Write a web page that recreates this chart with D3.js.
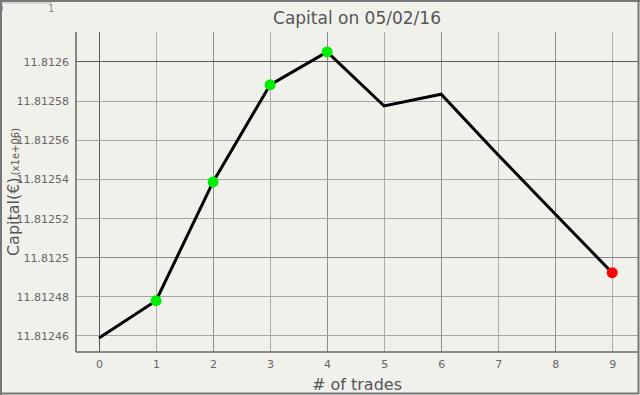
<!DOCTYPE html>
<html><head><meta charset="utf-8">
<script src="https://cdn.jsdelivr.net/npm/d3@7"></script>
<style>html,body{margin:0;padding:0;background:#f1f1ec;}svg{display:block;}</style>
</head><body>
<svg id="c" width="640" height="395"></svg>
<script>
const trades = [0,1,2,3,4,5,6,7,8,9];
const capital = [11.812459, 11.812478, 11.8125387, 11.8125883, 11.8126051, 11.8125775, 11.8125835, 11.8125525, 11.8125223, 11.8124923];
const markerColor = [null, "#00ee00", "#00ee00", "#00ee00", "#00ee00", null, null, null, null, "#ff0000"];
const xTicks = [0,1,2,3,4,5,6,7,8,9];
const yTicks = [11.81246, 11.81248, 11.8125, 11.81252, 11.81254, 11.81256, 11.81258, 11.8126];
const yTickLabels = ["11.81246","11.81248","11.8125","11.81252","11.81254","11.81256","11.81258","11.8126"];
const title = "Capital on 05/02/16";
const xTitle = "# of trades";

const svg = d3.select("#c");
const W = 640, H = 395;
const L = 76, R = 639, T = 32, B = 352;
const font = "Tahoma, 'DejaVu Sans', Verdana, sans-serif";

const x = d3.scaleLinear().domain([-0.404, 9.47]).range([L, R]);
const y = d3.scaleLinear().domain([11.8124518, 11.8126153]).range([B, T]);

svg.append("rect").attr("width", W).attr("height", H).attr("fill", "#f1f1ec");

// grid
const g = svg.append("g");
xTicks.forEach(t => {
  g.append("line").attr("x1", x(t)).attr("x2", x(t)).attr("y1", T).attr("y2", B)
    .attr("stroke", t === 0 ? "#5a5a5a" : (t % 2 === 0 ? "#8e8e8e" : "#ababab")).attr("stroke-width", 1).attr("shape-rendering","crispEdges");
});
yTicks.forEach((t, i) => {
  const major = (t === 11.8126 || t === 11.8125);
  g.append("line").attr("x1", L).attr("x2", R).attr("y1", y(t)).attr("y2", y(t))
    .attr("stroke", t === 11.8126 ? "#5a5a5a" : (major ? "#8a8a8a" : "#a5a5a5")).attr("stroke-width", 1).attr("shape-rendering","crispEdges");
});

// axes
const xAxis = d3.axisBottom(x).tickValues(xTicks).tickSize(0).tickPadding(8).tickFormat(d3.format("d"));
const xa = svg.append("g").attr("transform", `translate(0,${B})`).call(xAxis);
xa.select(".domain").attr("stroke", "#666").attr("stroke-width", 1.5).attr("d", `M${L},0H${R}`);
xa.selectAll("text").attr("fill", "#666").attr("font-size", 11).attr("font-family", font);

const yAxis = d3.axisLeft(y).tickValues(yTicks).tickSize(0).tickPadding(7).tickFormat((d, i) => yTickLabels[i]);
const ya = svg.append("g").attr("transform", `translate(${L},0)`).call(yAxis);
ya.select(".domain").attr("stroke", "#666").attr("stroke-width", 1.5).attr("d", `M0,${T}V${B}`);
ya.selectAll("text").attr("fill", "#666").attr("font-size", 11).attr("font-family", font);

// line
const line = d3.line().x((d, i) => x(trades[i])).y(d => y(d));
svg.append("path").datum(capital).attr("d", line).attr("fill", "none")
  .attr("stroke", "#000").attr("stroke-width", 3).attr("stroke-linejoin", "miter");

// markers
svg.selectAll("circle.m").data(capital.map((v, i) => ({v, i})).filter(d => markerColor[d.i]))
  .enter().append("circle").attr("class", "m")
  .attr("cx", d => x(trades[d.i])).attr("cy", d => y(d.v)).attr("r", 5.5)
  .attr("fill", d => markerColor[d.i]);

// titles
svg.append("text").attr("x", 357).attr("y", 24).attr("text-anchor", "middle")
  .attr("font-family", font).attr("font-size", 17).attr("fill", "#555").text(title);
svg.append("text").attr("x", 357).attr("y", 390).attr("text-anchor", "middle")
  .attr("font-family", font).attr("font-size", 16).attr("fill", "#555").text(xTitle);
const yl = svg.append("text").attr("transform", "translate(19,192) rotate(-90)").attr("text-anchor", "middle")
  .attr("font-family", font).attr("fill", "#555");
yl.append("tspan").attr("font-size", 16).text("Capital(€)");
yl.append("tspan").attr("font-size", 10).attr("dx", 2).text("(x1e+06)");

// top-left ruler remnant
svg.append("text").attr("x", -3).attr("y", 12).attr("font-family", font).attr("font-size", 10).attr("fill", "#888").text("0");
svg.append("text").attr("x", 48).attr("y", 12).attr("font-family", font).attr("font-size", 10).attr("fill", "#888").text("1");
svg.append("line").attr("x1", 0).attr("x2", 52).attr("y1", 3).attr("y2", 3).attr("stroke", "#bbb").attr("stroke-width", 1);

// outer border
svg.append("path").attr("d", `M1,395V1H${W}`).attr("fill","none").attr("stroke", "#777").attr("stroke-width", 2);
svg.append("path").attr("d", `M52,1H638.5V393.5H0`).attr("fill","none").attr("stroke", "#777").attr("stroke-width", 2);
</script>
</body></html>
